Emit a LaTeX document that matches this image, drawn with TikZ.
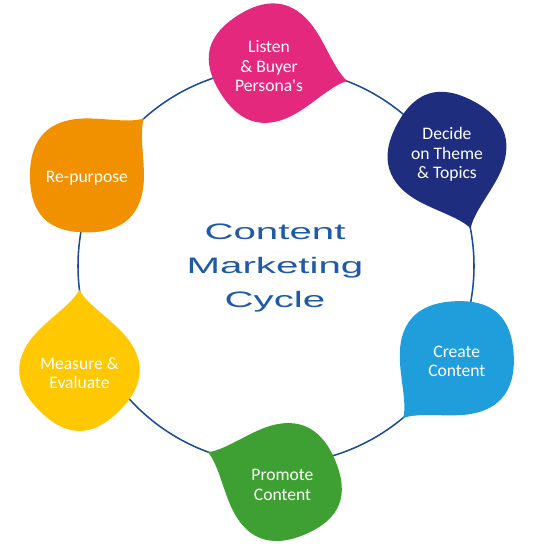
\documentclass[tikz,border=0pt]{standalone}
\usepackage{fontspec}
\setmainfont{Carlito}
\newfontfamily\titlefont[FakeStretch=1.8]{Liberation Sans}
\usetikzlibrary{calc}
\definecolor{petalpink}{RGB}{228,40,125}
\definecolor{petalnavy}{RGB}{30,45,125}
\definecolor{petalsky}{RGB}{32,158,220}
\definecolor{petalgreen}{RGB}{62,160,50}
\definecolor{petalyellow}{RGB}{255,200,0}
\definecolor{petalorange}{RGB}{242,145,0}
\definecolor{ringblue}{RGB}{28,78,148}
\definecolor{titleblue}{RGB}{30,90,165}
\tikzset{
    petaltext/.style={text=white, align=center, font=\fontsize{12.5}{13.8}\selectfont},
    titletext/.style={text=titleblue, align=center, font=\titlefont\fontsize{15.9}{24}\selectfont},
}

\begin{document}
\begin{tikzpicture}[x=0.025cm, y=0.025cm]
    \useasboundingbox (0,0) rectangle (532,544);
    \coordinate (O) at (276,278);
    \draw[ringblue, line width=1.1pt] (O) circle (198);
    % petals: name / angle on ring / tip direction / colour / text
    \foreach \petal/\ang/\dir/\col/\txt in {
        listen/69/-13/petalpink/{Listen\\\& Buyer\\Persona\textquotesingle s},
        decide/11/-73/petalnavy/{Decide\\on Theme\\\& Topics},
        create/-50/-132/petalsky/{Create\\Content},
        promote/-110/158/petalgreen/{Promote\\Content},
        measure/187/90/petalyellow/{Measure \&\\Evaluate},
        repurpose/132/45/petalorange/{Re-purpose}}
    {
        \coordinate (\petal) at ($(O)+(\ang:198)+(\dir:-80)$);
        \fill[\col, shift={(\petal)}, rotate=\dir-45, scale=57]
            (1,1) .. controls (0.75,0.92) and (0.35,1.0) .. (0,1)
            .. controls (-0.66,1) and (-1,0.66) .. (-1,0)
            .. controls (-1,-0.68) and (-0.68,-1) .. (0,-1)
            .. controls (0.66,-1) and (1,-0.66) .. (1,0)
            .. controls (1,0.35) and (0.92,0.75) .. cycle;
        \node[petaltext] (\petal-text) at ($(\petal)+(0,-3)$) {\txt};
    }
    \node[titletext] (title) at (275,276) {Content\\Marketing\\Cycle};
\end{tikzpicture}
\end{document}
